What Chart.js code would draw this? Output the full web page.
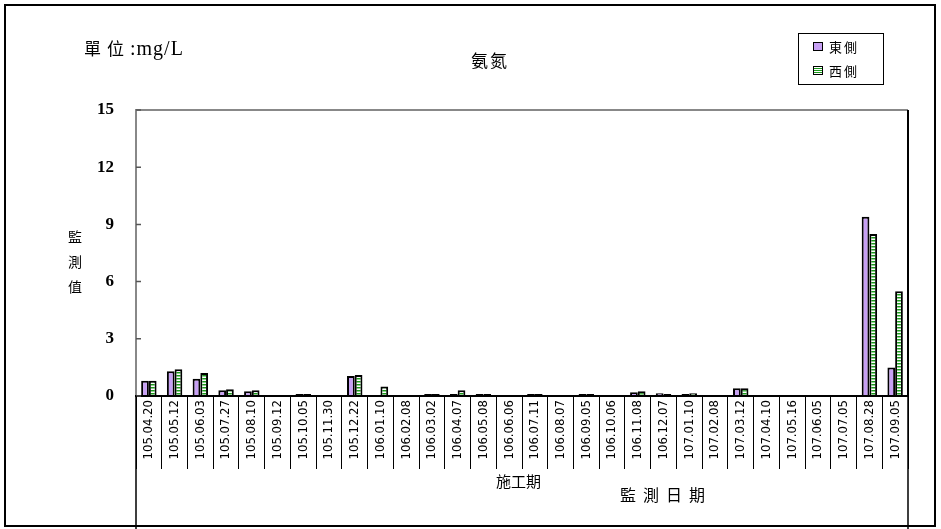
<!DOCTYPE html>
<html>
<head>
<meta charset="utf-8">
<script src="https://cdn.jsdelivr.net/npm/chart.js@4.4.1/dist/chart.umd.min.js"></script>
<style>
  html, body { margin: 0; padding: 0; background: #fff; }
  #wrap { position: relative; width: 941px; height: 529px; overflow: hidden; }
  #frame { position: absolute; left: 4px; top: 4px; width: 928px; height: 519px; border: 2px solid #000; }
  canvas { position: absolute; left: 0; top: 0; }
  .txt { position: absolute; font-family: "Noto Sans CJK TC", "Liberation Serif", serif; color: #000; white-space: nowrap; }
  #unit { left: 84px; top: 35px; font-size: 17px; letter-spacing: 6px; }
  #unit span { font-family: "Liberation Serif", serif; font-size: 20px; letter-spacing: 1px; }
  #title { left: 471px; top: 47px; font-size: 17px; letter-spacing: 2px; }
  #ylab { left: 68px; top: 224px; font-size: 14px; line-height: 25px; width: 16px; }
  #grp { left: 496px; top: 470px; font-size: 15px; }
  #xlab { left: 620px; top: 482px; font-size: 16px; letter-spacing: 7px; }
  #legend { position: absolute; left: 798px; top: 33px; width: 84px; height: 50px; border: 1px solid #000; background: #fff; }
  .li { position: absolute; left: 14px; font-size: 13px; font-family: "Noto Sans CJK TC", sans-serif; letter-spacing: 2px; }
  .sw { display: inline-block; width: 8px; height: 7px; border: 1.5px solid #000; margin-right: 6px; vertical-align: 1px; }
</style>
</head>
<body>
<div id="wrap">
  <canvas id="c" width="941" height="529"></canvas>
  <div id="frame"></div>
  <div class="txt" id="unit">單位<span>:mg/L</span></div>
  <div class="txt" id="title">氨氮</div>
  <div class="txt" id="ylab">監<br>測<br>值</div>
  <div class="txt" id="grp">施工期</div>
  <div class="txt" id="xlab">監測日期</div>
  <div id="legend">
    <div class="li" style="top:3px"><span class="sw" id="sw0"></span>東側</div>
    <div class="li" style="top:27px"><span class="sw" id="sw1"></span>西側</div>
  </div>
</div>
<script>
// monitoring dates (ROC calendar)
const dates = [
  '105.04.20', '105.05.12', '105.06.03', '105.07.27', '105.08.10', '105.09.12',
  '105.10.05', '105.11.30', '105.12.22', '106.01.10', '106.02.08', '106.03.02',
  '106.04.07', '106.05.08', '106.06.06', '106.07.11', '106.08.07', '106.09.05',
  '106.10.06', '106.11.08', '106.12.07', '107.01.10', '107.02.08', '107.03.12',
  '107.04.10', '107.05.16', '107.06.05', '107.07.05', '107.08.28', '107.09.05'
];

// 氨氮 mg/L
const east = [
  0.8, 1.3, 0.9, 0.3, 0.25, 0, 0.1, 0, 1.05, 0.05,
  0, 0.1, 0.1, 0.1, 0, 0.1, 0, 0.1, 0, 0.2,
  0.15, 0.1, 0, 0.4, 0, 0, 0, 0, 9.4, 1.5
];
const west = [
  0.8, 1.4, 1.2, 0.35, 0.3, 0, 0.1, 0, 1.1, 0.5,
  0, 0.1, 0.3, 0.1, 0, 0.1, 0, 0.1, 0, 0.25,
  0.1, 0.15, 0, 0.4, 0, 0, 0, 0, 8.5, 5.5
];
const yTicks = [0, 3, 6, 9, 12, 15];

const EAST_FILL = '#c7a0f4';
const WEST_LINE = '#1a9a1a';

// horizontal green stripes for 西側
function stripes() {
  const p = document.createElement('canvas');
  p.width = 4; p.height = 3;
  const g = p.getContext('2d');
  g.fillStyle = '#fff'; g.fillRect(0, 0, 4, 3);
  g.fillStyle = WEST_LINE; g.fillRect(0, 0, 4, 1);
  g.fillStyle = '#8fd08f'; g.fillRect(0, 1, 4, 1);
  return g.createPattern(p, 'repeat');
}

document.getElementById('sw0').style.background = EAST_FILL;
document.getElementById('sw1').style.background =
  'repeating-linear-gradient(#fff 0 1px, ' + WEST_LINE + ' 1px 2px)';

const PLOT_L = 136, PLOT_T = 110, PLOT_R = 908, PLOT_B = 396;

// plot border, inside y ticks, long edge lines of the date box
const frame = {
  id: 'frame',
  afterDraw(chart) {
    const { ctx, chartArea: a, scales } = chart;
    ctx.save();
    ctx.lineWidth = 2;
    ctx.strokeStyle = '#888';
    ctx.beginPath();
    ctx.moveTo(a.left, a.bottom); ctx.lineTo(a.left, a.top); ctx.lineTo(a.right, a.top);
    ctx.stroke();
    ctx.strokeStyle = '#000';
    ctx.beginPath();
    ctx.moveTo(a.right, a.top); ctx.lineTo(a.right, a.bottom);
    ctx.moveTo(a.left - 1, a.bottom); ctx.lineTo(a.right + 1, a.bottom);
    ctx.stroke();
    ctx.lineWidth = 1.5;
    ctx.strokeStyle = '#555';
    ctx.beginPath();
    scales.y.ticks.forEach(t => {
      const y = scales.y.getPixelForValue(t.value);
      ctx.moveTo(a.left, y); ctx.lineTo(a.left + 5, y);
    });
    ctx.stroke();
    ctx.lineWidth = 1.5;
    ctx.strokeStyle = '#000';
    ctx.beginPath();
    ctx.moveTo(a.left, a.bottom); ctx.lineTo(a.left, 529);
    ctx.moveTo(a.right, a.bottom); ctx.lineTo(a.right, 529);
    ctx.stroke();
    ctx.restore();
  }
};

new Chart(document.getElementById('c'), {
  type: 'bar',
  data: {
    labels: dates,
    datasets: [
      { label: '東側', data: east, backgroundColor: EAST_FILL, borderColor: '#000', borderWidth: 2 },
      { label: '西側', data: west, backgroundColor: stripes(), borderColor: '#000', borderWidth: 2 },
    ],
  },
  options: {
    responsive: false, animation: false,
    layout: { padding: { left: 0, top: PLOT_T, right: 941 - PLOT_R, bottom: 0 } },
    datasets: { bar: { categoryPercentage: 0.6, barPercentage: 1.0 } },
    plugins: { legend: { display: false }, tooltip: { enabled: false } },
    scales: {
      x: {
        afterFit: s => { s.height = 529 - PLOT_B; },
        border: { display: false },
        grid: { offset: true, drawOnChartArea: false, drawTicks: true, tickLength: 73, color: '#000', lineWidth: 1 },
        ticks: {
          autoSkip: false, minRotation: 90, maxRotation: 90, padding: -69,
          color: '#000', font: { family: '"DejaVu Sans Condensed", "Liberation Sans Narrow", sans-serif', size: 13 }
        },
      },
      y: {
        min: 0, max: 15,
        afterFit: s => { s.width = PLOT_L; },
        afterBuildTicks: s => { s.ticks = yTicks.map(v => ({ value: v })); },
        border: { display: false },
        grid: { display: false, drawTicks: false },
        ticks: {
          padding: 22, color: '#000',
          font: { family: '"Liberation Serif", serif', size: 17, weight: 'bold' }
        },
      },
    },
  },
  plugins: [frame],
});
</script>
</body>
</html>
